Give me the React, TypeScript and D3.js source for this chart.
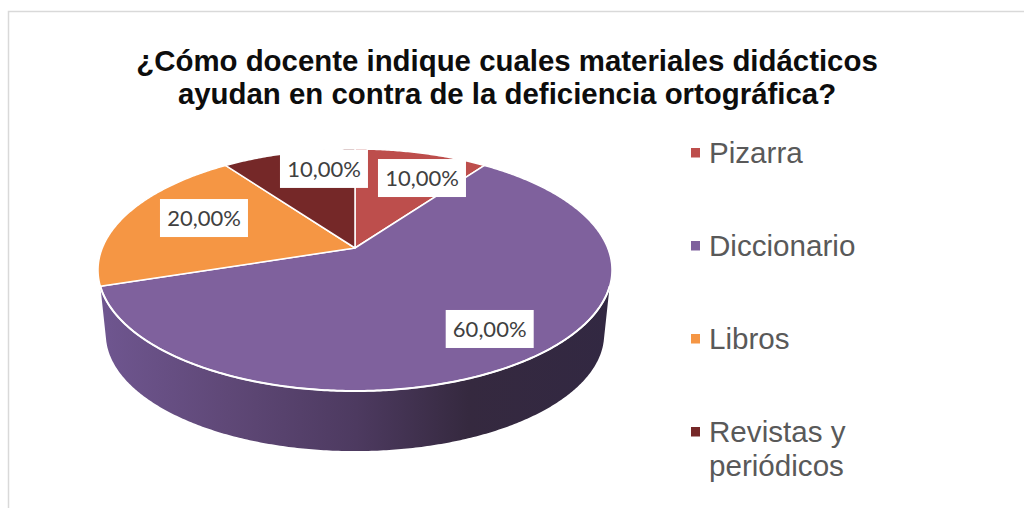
import React from "react";
import * as d3 from "d3";

const titleLines = [
  "¿Cómo docente indique cuales materiales didácticos",
  "ayudan en contra de la deficiencia ortográfica?",
];
const categories = ["Pizarra", "Diccionario", "Libros", "Revistas y periódicos"];
const values = [10, 60, 20, 10];
const valueLabels = ["10,00%", "60,00%", "20,00%", "10,00%"];
const colors = ["#bd4e4c", "#7f619d", "#f59644", "#752828"];
const legendLines = [["Pizarra"], ["Diccionario"], ["Libros"], ["Revistas y", "periódicos"]];
const labelAngles = [23.9, 142.4, 293.2, 349.7];
const labelRadii = [0.734, 0.776, 0.682, 0.783];

const W = 1024;
const H = 508;
const toRad = (d: number) => (d * Math.PI) / 180;

// perspective projection of the unit disc onto the screen
const K = -0.1818;
function projector(cx: number, cy: number, sx: number, sy: number) {
  const x = d3.scaleLinear().domain([-1, 1]).range([cx - sx, cx + sx]);
  const y = d3.scaleLinear().domain([-1, 1]).range([cy - sy, cy + sy]);
  return (angle: number, r = 1): [number, number] => {
    const ux = r * Math.sin(angle);
    const uy = -r * Math.cos(angle);
    const d = 1 + K * uy;
    return [x(ux / d), y(uy / d)];
  };
}
const topFace = projector(355, 248, 252.7, 117);
const bottomFace = projector(355, 313, 245, 113);

const pie = d3.pie<number>().sort(null).value((d) => d);
const arcs = pie(values);
const line = d3.line();

function rim(p: (a: number, r?: number) => [number, number], a0: number, a1: number) {
  const n = Math.max(2, Math.ceil(Math.abs(a1 - a0) / 0.01));
  return d3.range(n + 1).map((i) => p(a0 + ((a1 - a0) * i) / n));
}
function slicePath(a0: number, a1: number) {
  return line([topFace(0, 0), ...rim(topFace, a0, a1)])! + "Z";
}
const wallPath =
  line([
    ...rim(topFace, toRad(108), toRad(252)),
    ...rim(bottomFace, toRad(257), toRad(103)),
  ])! + "Z";
const frontRim = line(rim(topFace, toRad(108), toRad(252)))!;

const legendY = d3.scalePoint<number>().domain([0, 1, 2, 3]).range([163, 442]);
const legendLineHeight = 34;
const labelW = 88;
const labelH = 38;

export default function App() {
  return (
    <svg
      width={W}
      height={H}
      viewBox={`0 0 ${W} ${H}`}
      style={{ position: "absolute", left: 0, top: 0, display: "block", background: "#fff" }}
    >
      <defs>
        <linearGradient id="wall" gradientUnits="userSpaceOnUse" x1={100} x2={612} y1={0} y2={0}>
          <stop offset="0" stopColor="#6f5690" />
          <stop offset="0.25" stopColor="#5f4877" />
          <stop offset="0.5" stopColor="#4d3a60" />
          <stop offset="0.72" stopColor="#35293f" />
          <stop offset="1" stopColor="#322842" />
        </linearGradient>
      </defs>
      <path d={`M8.5,${H}V11.5H${W}`} fill="none" stroke="#d9d9d9" strokeWidth={1.5} />
      <g fontFamily="'Liberation Sans', Arial, sans-serif" fontWeight={700} fontSize={29.4} fill="#0d0d0d" textAnchor="middle">
        {titleLines.map((t, i) => (
          <text key={i} x={507} y={71 + i * 33}>{t}</text>
        ))}
      </g>
      <path d={wallPath} fill="url(#wall)" />
      {arcs.map((a, i) => (
        <path key={i} d={slicePath(a.startAngle, a.endAngle)} fill={colors[i]} stroke="#fff" strokeWidth={1.5} strokeLinejoin="round" />
      ))}
      <path d={frontRim} fill="none" stroke="#fff" strokeWidth={2} />
      {valueLabels.map((t, i) => {
        const [x, y] = topFace(toRad(labelAngles[i]), labelRadii[i]);
        return (
          <g key={i}>
            <rect x={x - labelW / 2} y={y - labelH / 2} width={labelW} height={labelH} fill="#fff" />
            <text x={x} y={y + 8} textAnchor="middle" fontFamily="Lato, sans-serif" fontSize={22} fill="#404040">{t}</text>
          </g>
        );
      })}
      {categories.map((c, i) => (
        <g key={c}>
          <rect x={691} y={legendY(i)! - 15} width={9} height={9.5} fill={colors[i]} />
          <text fontFamily="'Liberation Sans', Arial, sans-serif" fontSize={29.6} fill="#595959">
            {legendLines[i].map((l, j) => (
              <tspan key={j} x={709} y={legendY(i)! + j * legendLineHeight}>{l}</tspan>
            ))}
          </text>
        </g>
      ))}
    </svg>
  );
}
